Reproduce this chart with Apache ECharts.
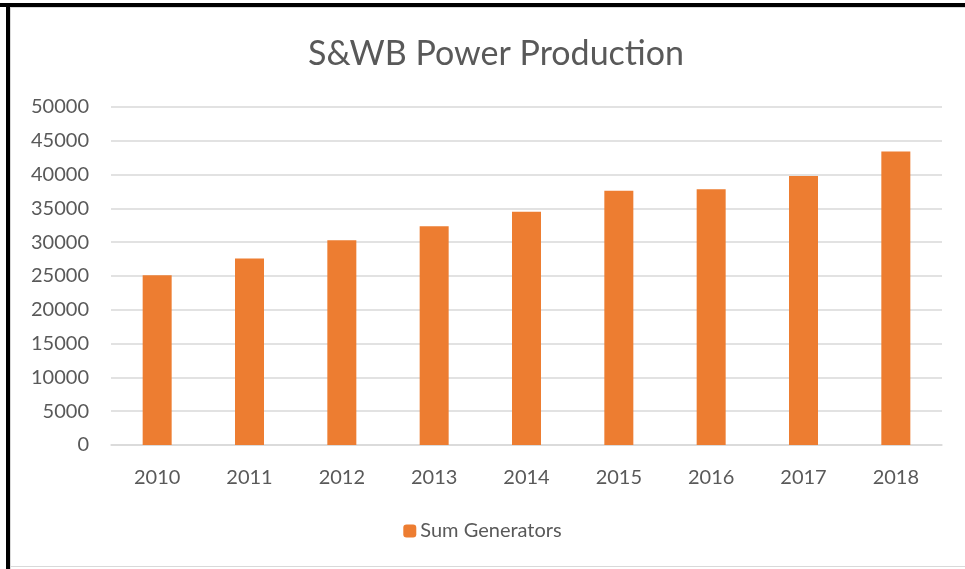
<!DOCTYPE html>
<html>
<head>
<meta charset="utf-8">
<script src="https://cdn.jsdelivr.net/npm/echarts@6/dist/echarts.min.js"></script>
<style>
  html, body { margin: 0; padding: 0; background: #fff; }
  #main { width: 965px; height: 569px; }
</style>
</head>
<body>
<div id="main"></div>
<script>
var years = ['2010', '2011', '2012', '2013', '2014', '2015', '2016', '2017', '2018'];
var sumGenerators = [25100, 27600, 30300, 32350, 34500, 37600, 37850, 39800, 43400];

var myChart = echarts.init(document.getElementById('main'));
var textColor = '#595959';
var font = 'Lato';

var option = {
    animation: false,
    backgroundColor: '#fff',
    title: {
        text: 'S&WB Power Production',
        left: 491,
        top: 32,
        textAlign: 'center',
        textStyle: { fontFamily: font, fontSize: 34, fontWeight: 'normal', color: textColor }
    },
    legend: {
        data: ['Sum Generators'],
        left: 'center',
        top: 516,
        itemWidth: 13,
        itemHeight: 13,
        itemGap: 4,
        textStyle: { fontFamily: font, fontSize: 20, color: textColor, padding: [0, 0, 0, -1] }
    },
    grid: { left: 111, right: 23, top: 107, bottom: 124, containLabel: false },
    xAxis: {
        type: 'category',
        data: years,
        axisLine: { lineStyle: { color: '#d9d9d9', width: 1.5 } },
        axisTick: { show: false },
        axisLabel: { fontFamily: font, fontSize: 20, color: textColor, margin: 23 }
    },
    yAxis: {
        type: 'value',
        min: 0,
        max: 50000,
        interval: 5000,
        axisLine: { show: false },
        axisTick: { show: false },
        axisLabel: {
            fontFamily: font, fontSize: 20, color: textColor, margin: 22,
            formatter: function (v) { return String(v); }
        },
        splitLine: { lineStyle: { color: '#d9d9d9', width: 1.5 } }
    },
    series: [{
        name: 'Sum Generators',
        type: 'bar',
        barWidth: 29,
        itemStyle: { color: '#ED7D31' },
        data: sumGenerators
    }],
    graphic: [
        { type: 'rect', shape: { x: 0, y: 3, width: 965, height: 4 }, style: { fill: '#000' }, silent: true },
        { type: 'rect', shape: { x: 6, y: 3, width: 4, height: 566 }, style: { fill: '#000' }, silent: true },
        { type: 'rect', shape: { x: 10, y: 7, width: 955, height: 1 }, style: { fill: '#d9d9d9' }, silent: true },
        { type: 'rect', shape: { x: 10, y: 7, width: 1, height: 562 }, style: { fill: '#d9d9d9' }, silent: true },
        { type: 'rect', shape: { x: 10, y: 566, width: 955, height: 1 }, style: { fill: '#d9d9d9' }, silent: true }
    ]
};

if (option && typeof option === 'object') {
    myChart.setOption(option, true);
}
</script>
</body>
</html>
